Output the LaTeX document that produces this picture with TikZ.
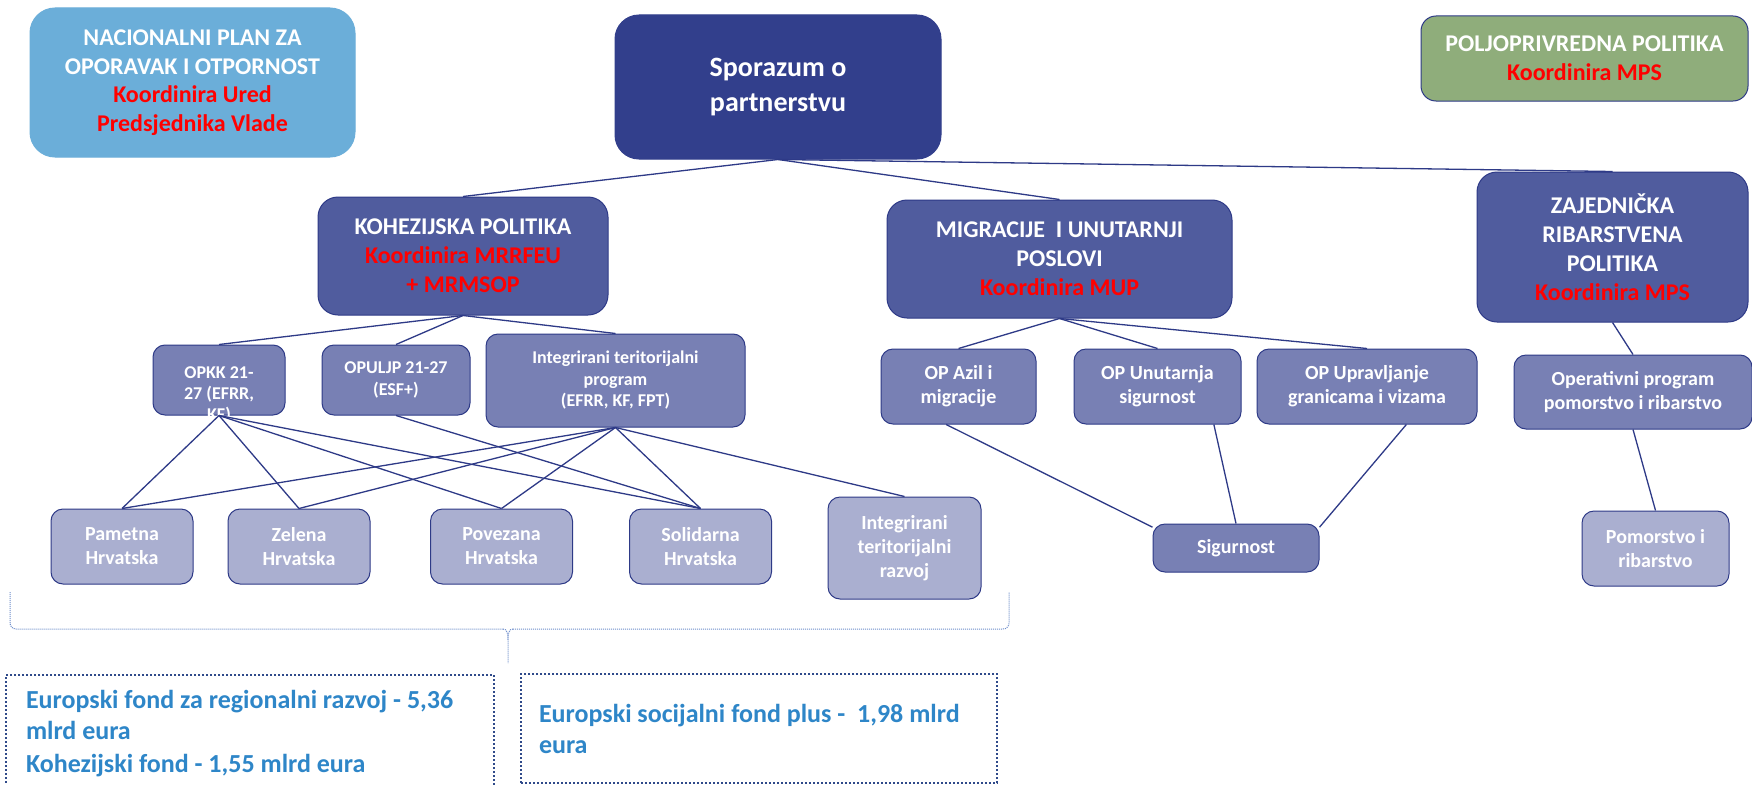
\documentclass[tikz,border=0pt]{standalone}
\usepackage{fontspec}
\setmainfont{Carlito}

\definecolor{navy}{HTML}{323F8C}
\definecolor{midblue}{HTML}{505C9E}
\definecolor{opblue}{HTML}{7880B4}
\definecolor{lilac}{HTML}{AAAFD0}
\definecolor{skyblue}{HTML}{6BAED9}
\definecolor{agrgreen}{HTML}{8FAD7B}
\definecolor{linec}{HTML}{2E3A87}
\definecolor{fundblue}{HTML}{2E86C8}
\definecolor{dotblue}{HTML}{2F4A8A}
\definecolor{bracec}{HTML}{6C8CCB}
\definecolor{kred}{HTML}{FF0000}

\newcommand{\koord}[1]{\textcolor{kred}{#1}}

\begin{document}
\begin{tikzpicture}[x=1pt, y=-1pt,
  box/.style={draw=linec, line width=1pt, align=center, text=white, inner sep=0pt},
  headbox/.style={box, rounded corners=20pt, fill=midblue, font=\bfseries\fontsize{24}{29}\selectfont},
  opbox/.style={box, rounded corners=12pt, fill=opblue, font=\bfseries\fontsize{20}{24}\selectfont},
  prbox/.style={opbox, font=\bfseries\fontsize{18}{21.5}\selectfont},
  aimbox/.style={opbox, fill=lilac},
  fundbox/.style={draw=dotblue, line width=2pt, dotted, text=fundblue, align=flush left,
    inner xsep=20pt, inner ysep=0pt, font=\bfseries\fontsize{26}{31}\selectfont},
  link/.style={draw=linec, line width=1.3pt},
  brace/.style={draw=bracec, line width=1pt, dash pattern=on 1pt off 1pt}]

\fill[white] (0,0) rectangle (1752,784);
\useasboundingbox (0,0) rectangle (1752,784);

% top row
\node (npoo) at (192.5,82.5) [headbox, fill=skyblue, draw=skyblue, rounded corners=25pt,
  minimum width=325pt, minimum height=149pt, font=\bfseries\fontsize{24}{28.5}\selectfont]
  {NACIONALNI PLAN ZA\\OPORAVAK I OTPORNOST\\\koord{Koordinira Ured}\\\koord{Predsjednika Vlade}};
\node (spor) at (778,87) [headbox, fill=navy, draw=navy, rounded corners=24pt,
  minimum width=326pt, minimum height=144pt, font=\bfseries\fontsize{28}{35}\selectfont]
  {Sporazum o\\partnerstvu};
\node (polj) at (1584.5,58.5) [headbox, fill=agrgreen, rounded corners=15pt,
  minimum width=327pt, minimum height=85pt]
  {POLJOPRIVREDNA POLITIKA\\\koord{Koordinira MPS}};

% policies
\node (koh) at (463,256) [headbox, minimum width=290pt, minimum height=118pt]
  {KOHEZIJSKA POLITIKA\\\koord{Koordinira MRRFEU}\\\koord{+ MRMSOP}};
\node (mig) at (1059.5,259) [headbox, minimum width=345pt, minimum height=118pt]
  {MIGRACIJE\ \ I UNUTARNJI\\POSLOVI\\\koord{Koordinira MUP}};
\node (zaj) at (1612.5,247) [headbox, minimum width=271pt, minimum height=150pt]
  {ZAJEDNIČKA\\RIBARSTVENA\\POLITIKA\\\koord{Koordinira MPS}};

% programmes
\node (opkk) at (219,380) [prbox, minimum width=132pt, minimum height=70pt,
  label={[text=white, align=center, font=\bfseries\fontsize{18}{21}\selectfont, yshift=-15pt]center:OPKK 21-\\27 (EFRR,\\KF)}] {};
\node (opuljp) at (396,380) [prbox, minimum width=148pt, minimum height=70pt]
  {OPULJP 21-27\\(ESF+)};
\node (itp) at (615.5,380.5) [prbox, minimum width=259pt, minimum height=93pt]
  {Integrirani teritorijalni\\program\\(EFRR, KF, FPT)};
\node (azil) at (958.5,386.5) [opbox, minimum width=155pt, minimum height=75pt]
  {OP Azil i\\migracije};
\node (unut) at (1157.5,386.5) [opbox, minimum width=167pt, minimum height=75pt]
  {OP Unutarnja\\sigurnost};
\node (uprav) at (1367,386.5) [opbox, minimum width=220pt, minimum height=75pt]
  {OP Upravljanje\\granicama i vizama};
\node (oper) at (1633,392) [opbox, minimum width=238pt, minimum height=74pt]
  {Operativni program\\pomorstvo i ribarstvo};

% goals
\node (pametna) at (122,546.5) [aimbox, minimum width=142pt, minimum height=75pt] {Pametna\\Hrvatska};
\node (zelena) at (299,546.5) [aimbox, minimum width=142pt, minimum height=75pt] {Zelena\\Hrvatska};
\node (povezana) at (501.5,546.5) [aimbox, minimum width=142pt, minimum height=75pt] {Povezana\\Hrvatska};
\node (solidarna) at (700.5,546.5) [aimbox, minimum width=142pt, minimum height=75pt] {Solidarna\\Hrvatska};
\node (itr) at (904.5,548) [aimbox, minimum width=153pt, minimum height=102pt]
  {Integrirani\\teritorijalni\\razvoj};
\node (sig) at (1236,548) [opbox, minimum width=166pt, minimum height=48pt] {Sigurnost};
\node (pomor) at (1655.5,548.5) [aimbox, minimum width=147pt, minimum height=75pt]
  {Pomorstvo i\\ribarstvo};

% connectors
\draw[link] (spor.south) -- (koh.north);
\draw[link] (spor.south) -- (mig.north);
\draw[link] (spor.south) -- (zaj.north);

\draw[link] (koh.south) -- (opkk.north);
\draw[link] (koh.south) -- (opuljp.north);
\draw[link] (koh.south) -- (itp.north);

\draw[link] (mig.south) -- (azil.north);
\draw[link] (mig.south) -- (unut.north);
\draw[link] (mig.south) -- (uprav.north);

\draw[link] (zaj.south) -- (oper.north);
\draw[link] (oper.south) -- (pomor.north);

\draw[link] (opkk.south) -- (pametna.north);
\draw[link] (opkk.south) -- (zelena.north);
\draw[link] (opkk.south) -- (povezana.north);
\draw[link] (opkk.south) -- (solidarna.north);
\draw[link] (opuljp.south) -- (solidarna.north);
\draw[link] (itp.south) -- (pametna.north);
\draw[link] (itp.south) -- (zelena.north);
\draw[link] (itp.south) -- (povezana.north);
\draw[link] (itp.south) -- (solidarna.north);
\draw[link] (itp.south) -- (itr.north);

\draw[link] (azil.252) -- (sig.166);
\draw[link] (unut.326) -- (sig.north);
\draw[link] (uprav.316) -- (sig.14);

% brace over the funds
\draw[brace, rounded corners=6pt] (10,592) -- (10,629) -- (503,629);
\draw[brace] (503,629) .. controls (507,629) and (508,633) .. (508,640) -- (508,663);
\draw[brace] (513,629) .. controls (509,629) and (508,633) .. (508,640);
\draw[brace, rounded corners=6pt] (513,629) -- (1009,629) -- (1009,592);

% funds
\node (efrr) at (250,734) [fundbox, text width=448pt, minimum height=118pt]
  {Europski fond za regionalni razvoj - 5,36\\mlrd eura\\[2pt]Kohezijski fond - 1,55 mlrd eura};
\node (esf) at (759,728.5) [fundbox, inner xsep=18pt, text width=440pt, minimum height=109pt]
  {Europski socijalni fond plus -\ \ 1,98 mlrd\\eura};

\end{tikzpicture}
\end{document}
